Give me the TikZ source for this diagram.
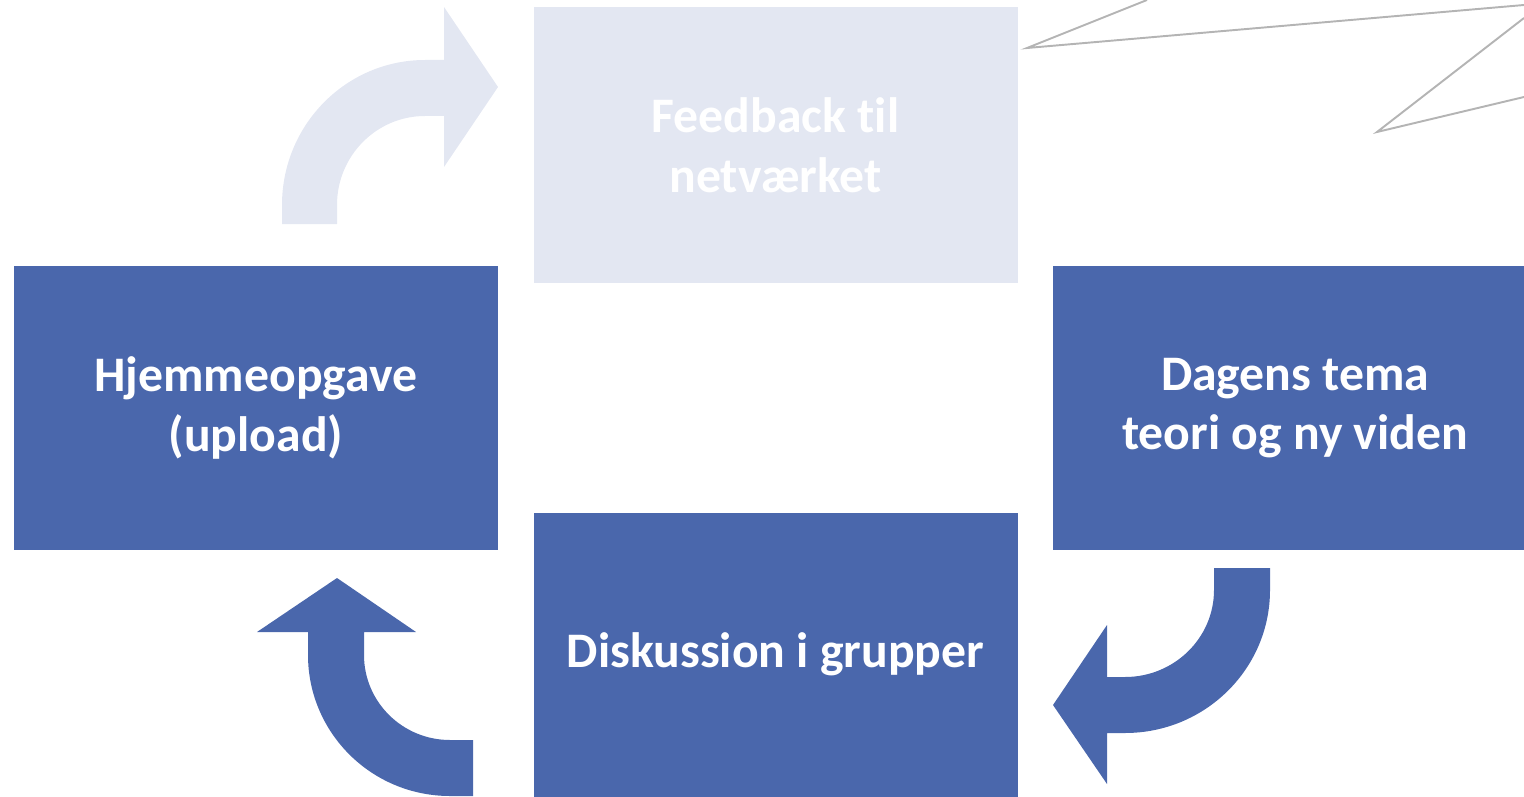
\documentclass[tikz,border=0pt]{standalone}
\usepackage{fontspec}
\setmainfont{Carlito}[Ligatures=NoCommon]
\usepackage{tikz}
\usepackage{xcolor}
\usetikzlibrary{positioning}

\definecolor{boxblue}{HTML}{4A67AC}
\definecolor{paleblue}{HTML}{E3E7F2}
\definecolor{sketchgray}{HTML}{B4B4B4}

\begin{document}
\begin{tikzpicture}[x=0.02cm, y=0.02cm,
    darkbox/.style={rectangle, fill=boxblue, text=white, align=center, inner sep=0pt,
        minimum width=9.68cm, minimum height=5.68cm,
        font=\bfseries\fontsize{28.3}{33.8}\selectfont},
    lightbox/.style={darkbox, fill=paleblue, minimum height=5.52cm},
    bendarrow/.style={fill=boxblue, draw=none}]
    \useasboundingbox (0,0) rectangle (1524,796);

    % Boxes
    \node[darkbox] (hjem) at (256,388) {Hjemmeopgave\\(upload)};
    \node[lightbox, above right=-0.36cm and 0.7cm of hjem] (feedback) {Feedback til\\netværket};
    \node[darkbox, below right=-0.36cm and 0.7cm of feedback] (dagens) {Dagens tema\\teori og ny viden};
    \node[darkbox, below right=-0.76cm and 0.7cm of hjem] (diskussion) {Diskussion i grupper};

    % Arrows
    \fill[bendarrow, fill=paleblue] (282,572) -- (282,591)
        arc[start angle=180, end angle=90, x radius=143, y radius=145]
        -- (444,736) -- (444,789) -- (498,709) -- (444,629) -- (444,680) -- (425,680)
        arc[start angle=90, end angle=180, x radius=88, y radius=89]
        -- (337,572) -- cycle;
    \fill[bendarrow] (1270,228) -- (1270,206)
        arc[start angle=0, end angle=-90, x radius=145, y radius=143]
        -- (1107,63) -- (1107,12) -- (1053,91) -- (1107,171) -- (1107,119) -- (1125,119)
        arc[start angle=-90, end angle=0, x radius=89, y radius=87]
        -- (1214,228) -- cycle;
    \fill[bendarrow] (308,164) -- (308,141)
        arc[start angle=180, end angle=270, x radius=142, y radius=141]
        -- (473,0) -- (473,56) -- (450,56)
        arc[start angle=270, end angle=180, x radius=86, y radius=85]
        -- (364,164) -- (416,164) -- (337,218) -- (257,164) -- cycle;

    % Sketch lines
    \draw[sketchgray, line width=1.1pt] (1147,796) -- (1027,748) -- (1524,791);
    \draw[sketchgray, line width=1.1pt] (1524,778) -- (1377,664) -- (1524,699);
\end{tikzpicture}
\end{document}
